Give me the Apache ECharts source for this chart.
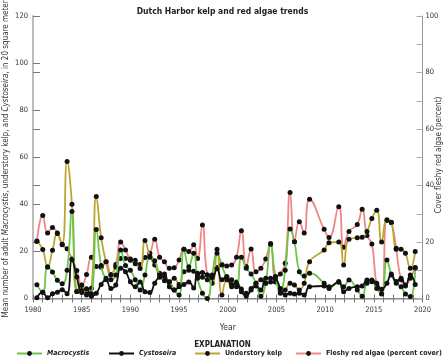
<!DOCTYPE html>
<html><head><meta charset="utf-8">
<script src="https://cdn.jsdelivr.net/npm/echarts@6/dist/echarts.min.js"></script>
<style>html,body{margin:0;padding:0;background:#fff}#c{width:445px;height:360px}</style>
</head><body><div id="c"></div>
<script>
// Survey times (decimal years)
const years = [1980.4,1981.0,1981.5,1982.0,1982.5,1983.0,1983.5,1984.0,1984.5,1985.0,1985.5,1986.0,1986.5,1987.0,1987.5,1988.0,1988.5,1989.0,1989.5,1990.0,1990.5,1991.0,1991.5,1992.0,1992.5,1993.0,1993.5,1994.0,1994.5,1995.0,1995.5,1996.0,1996.5,1996.9,1997.4,1997.9,1998.4,1998.9,1999.4,1999.9,2000.4,2000.9,2001.4,2001.9,2002.4,2002.9,2003.4,2003.9,2004.4,2004.9,2005.4,2005.9,2006.4,2006.85,2007.35,2007.85,2008.4,2009.9,2010.4,2011.4,2011.9,2012.45,2013.3,2013.8,2014.3,2014.8,2015.3,2015.8,2016.35,2016.8,2017.3,2017.8,2018.25,2018.75,2019.25];
// Mean number of adult Macrocystis (left axis)
const macrocystis = [5.8,2.7,13.4,11.3,7.7,6.3,12,37,3,2.5,1.5,2,29.3,14,8.6,8,10,20.6,14,12,8,3.6,10,17.5,16,10,7.5,7.1,3.6,1.5,20.9,13.5,19.2,8.6,2.2,0,10,19.2,14.2,9,8,5,17.5,12.8,10.4,6.5,1,6.5,23,9.3,3,12,29.5,24.1,11.4,9.6,10.7,6.5,4.3,6.9,5,7.9,3.6,1,6.5,7.1,4.3,1.9,16.4,10,6.5,5,1.9,0.8,13];
// Mean number of adult Cystoseira (left axis)
const cystoseira = [0.3,2.7,0.3,2,2.7,3.7,2,16.5,9.1,3.4,4.1,1,2.2,6,8,4.3,5.7,12.8,11.4,7.1,5,7,2.9,2.5,6.5,9,9.3,5,3.6,5,6,7,4.5,10.7,11,10,8.9,12.6,8,9.3,6,6.5,2.9,1,3.6,5.3,3.6,8.6,8.6,8.3,4.3,1.5,2.2,1.9,2.2,1.5,5,5.3,5,7.2,2.9,4.3,5,5.3,7.9,7.9,6.5,3.9,6.5,10.4,7.2,8.6,5.3,10,6];
// Mean number of understory kelp (left axis)
const understory = [24.4,20.8,13.4,20.5,27.6,23,58.2,40,3,5.7,2,4.4,43.3,25.8,15.6,10,13.4,17,17,16.2,14.8,12.7,24.6,18,14.2,10.7,10.4,7,8.6,6,11.4,12,11.6,10,9,8,6.5,20.9,1.5,8,5,7,4,2.2,4.3,6.5,8,6.5,7,7,2.2,3.6,6.5,5.7,3.6,6.5,15.6,20.6,23.7,24,14.2,25.2,25.8,26,28.5,34,37.5,24,33.4,32.4,21.3,20.9,19.2,12.8,20];
// Fleshy red algae, percent cover (right axis)
const fleshyRed = [20.2,29.4,23.2,25.1,23.2,19,17.6,14,9.9,4.6,8.5,14.6,11.3,11.1,13,8.5,12,20,17.2,14,13.5,12,14.5,16,21,14.6,13,10.7,10.9,13.6,17.4,16.6,19,14.2,26,8.3,7,11,12,11.5,11.9,14.6,24,11.3,17.5,9.5,10.7,14,19.5,7.7,8.7,12.5,37.5,20.1,27.2,23.2,35.1,24.5,21.6,32.5,18.1,23.7,26.2,31.6,22.3,19.3,4.8,1.8,27.6,26.8,17.4,6.6,4.8,7.2,11];

const xLabels = ['1980','1985','1990','1995','2000','2005','2010','2015','2020'];
const leftTicks = ['0','20','40','60','80','100','120'];
const rightTicks = ['0','20','40','60','80','100'];

const FONT = '"Liberation Sans Narrow","DejaVu Sans Condensed","Liberation Sans",sans-serif';
const pair = arr => years.map((y, i) => [y, arr[i]]);

const chart = echarts.init(document.getElementById('c'), null, {renderer: 'canvas'});
const lineSeries = (name, arr, color, yIdx, z) => ({
  name, type: 'line', yAxisIndex: yIdx, data: pair(arr), smooth: 0.5,
  symbol: 'circle', symbolSize: 5, showSymbol: true, z,
  itemStyle: {color: '#111'}, lineStyle: {color, width: 1.8},
  connectNulls: true, animation: false
});
const legendItem = (name, left, italic) => ({
  data: [name], left, top: 350, itemWidth: 25, itemHeight: 6, itemGap: 4, padding: 0,
  textStyle: {fontFamily: FONT, fontSize: 7, fontWeight: 'bold', color: '#222',
    rich: {i: {fontStyle: 'italic', fontWeight: 'bold', fontFamily: FONT, fontSize: 7, color: '#222'}}},
  formatter: italic ? (n => '{i|' + n + '}') : (n => n), selectedMode: false
});

chart.setOption({
  animation: false,
  backgroundColor: '#fff',
  title: [
    {text: 'Dutch Harbor kelp and red algae trends', left: 'center', top: 2,
     textStyle: {fontFamily: FONT, fontSize: 8.5, fontWeight: 'bold', color: '#222'}},
    {text: 'EXPLANATION', left: 'center', top: 336,
     textStyle: {fontFamily: FONT, fontSize: 8, fontWeight: 'bold', color: '#222'}}
  ],
  legend: [
    legendItem('Macrocystis', 16, true),
    legendItem('Cystoseira', 108, true),
    legendItem('Understory kelp', 194, false),
    legendItem('Fleshy red algae (percent cover)', 295, false)
  ],
  graphic: [
    {type: 'text', x: 6, y: 157, rotation: Math.PI / 2, silent: true,
     style: {text: 'Mean number of adult {i|Macrocystis}, understory kelp, and {i|Cystoseira}, in 20 square meters',
       align: 'center', verticalAlign: 'middle', fill: '#333', fontFamily: FONT, fontSize: 8,
       rich: {i: {fontStyle: 'italic', fontFamily: FONT, fontSize: 8, fill: '#333'}}}},
    {type: 'text', x: 439, y: 155, rotation: Math.PI / 2, silent: true,
     style: {text: 'Cover fleshy red algae (percent)', align: 'center', verticalAlign: 'middle',
       fill: '#333', fontFamily: FONT, fontSize: 8}}
  ],
  grid: {left: 33, right: 22.5, top: 16, bottom: 61.5, containLabel: false, outerBoundsMode: 'none'},
  xAxis: [
    {type: 'value', min: 1980, max: 2020, interval: 5, position: 'bottom',
     name: 'Year', nameLocation: 'middle', nameGap: 25,
     nameTextStyle: {fontFamily: FONT, fontSize: 8.5, color: '#333'},
     axisLine: {lineStyle: {color: '#bdbdbd', width: 2}},
     axisTick: {inside: true, length: 4, lineStyle: {color: '#777'}},
     minorTick: {show: true, splitNumber: 5, length: 4, lineStyle: {color: '#777'}},
     axisLabel: {fontFamily: FONT, fontSize: 7.5, color: '#333', margin: 8,
       formatter: v => xLabels[Math.round((v - 1980) / 5)] || ''},
     splitLine: {show: false}},
    {type: 'value', min: 1980, max: 2020, interval: 5, position: 'top',
     axisLine: {show: true, lineStyle: {color: '#888', width: 1}},
     axisTick: {inside: true, length: 4, lineStyle: {color: '#777'}},
     minorTick: {show: true, splitNumber: 5, length: 4, lineStyle: {color: '#777'}},
     axisLabel: {show: false}, splitLine: {show: false}}
  ],
  yAxis: [
    {type: 'value', min: 0, max: 120, interval: 20, position: 'left',
     axisLine: {show: true, lineStyle: {color: '#bdbdbd', width: 2}},
     axisTick: {show: true, inside: true, length: 7, lineStyle: {color: '#777'}},
     axisLabel: {fontFamily: FONT, fontSize: 7.5, color: '#333', margin: 5,
       formatter: v => leftTicks[Math.round(v / 20)] || ''},
     splitLine: {show: false}},
    {type: 'value', min: 0, max: 100, interval: 20, position: 'right',
     axisLine: {show: true, lineStyle: {color: '#999', width: 1}},
     axisTick: {show: true, inside: true, length: 6, lineStyle: {color: '#aaa'}},
     minorTick: {show: true, splitNumber: 2, length: 6, lineStyle: {color: '#aaa'}},
     axisLabel: {fontFamily: FONT, fontSize: 7.5, color: '#333', margin: 3,
       formatter: v => rightTicks[Math.round(v / 20)] || ''},
     splitLine: {show: false}},
    {type: 'value', min: 0, max: 100, interval: 20, position: 'left',
     axisLine: {show: false}, axisLabel: {show: false}, splitLine: {show: false},
     axisTick: {show: true, inside: true, length: 7, lineStyle: {color: '#777'}}}
  ],
  series: [
    lineSeries('Fleshy red algae (percent cover)', fleshyRed, '#f08686', 1, 2),
    lineSeries('Understory kelp', understory, '#bca632', 0, 3),
    lineSeries('Macrocystis', macrocystis, '#6cc64a', 0, 4),
    lineSeries('Cystoseira', cystoseira, '#111111', 0, 5)
  ]
});
</script></body></html>
